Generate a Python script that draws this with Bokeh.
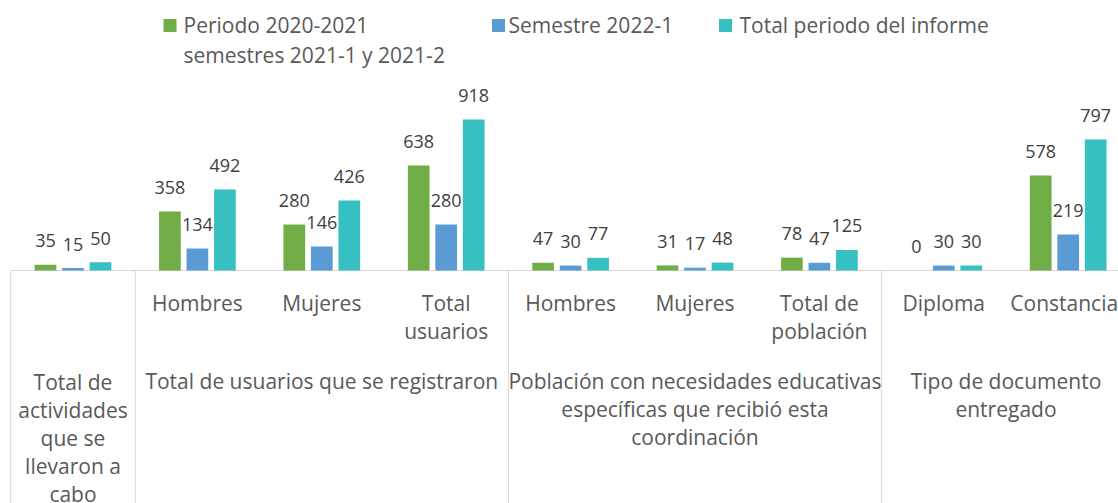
from bokeh.plotting import figure
from bokeh.models import Range1d, ColumnDataSource
from bokeh.core.properties import value
from bokeh.embed import file_html
from bokeh.resources import INLINE

# ---------------- data ----------------
sub_labels = ["", "Hombres", "Mujeres", "Total\nusuarios", "Hombres", "Mujeres",
              "Total de\npoblación", "Diploma", "Constancia"]
group_labels = ["Total de\nactividades\nque se\nllevaron a\ncabo",
                "Total de usuarios que se registraron",
                "Población con necesidades educativas\nespecíficas que recibió esta\ncoordinación",
                "Tipo de documento\nentregado"]
group_spans = [(0, 1), (1, 4), (4, 7), (7, 9)]
series_names = ["Periodo 2020-2021\nsemestres 2021-1 y 2021-2", "Semestre 2022-1",
                "Total periodo del informe"]
periodo = [35, 358, 280, 638, 47, 31, 78, 0, 578]
semestre = [15, 134, 146, 280, 30, 17, 47, 30, 219]
total = [50, 492, 426, 918, 77, 48, 125, 30, 797]
series = [periodo, semestre, total]
colors = ["#70AD47", "#5B9BD5", "#36C0C1"]

# ---------------- layout (pixels) ----------------
W, H = 1118, 503
CAT0 = 72.5             # centre of first category (px)
CATW = 124.4            # category width px
BASE = 270              # baseline y px from top
PPU = 0.16449           # pixels per value unit

def xd(px):
    return (px - CAT0) / CATW + 0.5

def yd(py):
    return (BASE - py) / PPU

p = figure(width=W, height=H, x_range=Range1d(xd(0), xd(W)), y_range=Range1d(yd(H), yd(0)),
           output_backend="svg", toolbar_location=None, min_border=0)
p.axis.visible = False
p.grid.visible = False
p.outline_line_color = None
p.background_fill_color = "white"
p.border_fill_color = "white"

FONT = value("Open Sans")
LBL = "#595959"
CAT_SPACING = 28.7

def block_offsets(labels, first_center):
    return [first_center + (t.count("\n")) / 2 * CAT_SPACING for t in labels]

# axis line and separators
n = len(sub_labels)
p.segment(x0=[0], y0=[0], x1=[n], y1=[0], line_color="#D9D9D9", line_width=1)
bounds = [s for s, e in group_spans] + [n]
p.segment(x0=bounds, y0=[0] * len(bounds), x1=bounds, y1=[yd(H + 5)] * len(bounds),
          line_color="#D9D9D9", line_width=1)

# bars
off = 27.5 / CATW
bw = 21.7 / CATW
for k, (vals, col) in enumerate(zip(series, colors)):
    xs = [i + 0.5 + (k - 1) * off for i in range(n)]
    src = ColumnDataSource(dict(x=xs, top=vals, lab=[str(v) for v in vals]))
    p.vbar(x="x", top="top", bottom=0, width=bw, source=src, fill_color=col, line_color=None)
    p.text(x="x", y="top", text="lab", source=src, text_align="center", text_baseline="middle",
           y_offset=-24, text_font=FONT, text_font_size="18px", text_color="#404040")

# category labels
sub_src = ColumnDataSource(dict(
    x=[i + 0.5 for i in range(n)], y=[0] * n, text=sub_labels,
    yo=block_offsets(sub_labels, 32),
    xo=[0] * (n - 1) + [-4]))
p.text(x="x", y="y", text="text", source=sub_src, x_offset="xo", y_offset="yo",
       text_align="center", text_baseline="middle", text_font=FONT, text_font_size="21px",
       text_color=LBL, text_line_height=1.0)
grp_src = ColumnDataSource(dict(
    x=[(s + e) / 2 for s, e in group_spans], y=[0] * len(group_spans), text=group_labels,
    yo=block_offsets(group_labels, 110)))
p.text(x="x", y="y", text="text", source=grp_src, y_offset="yo",
       text_align="center", text_baseline="middle", text_font=FONT, text_font_size="21px",
       text_color=LBL, text_line_height=1.0)

# legend
LEG_SPACING = 30
leg_sq_px = [169.5, 498, 725]
leg_tx_px = [183, 508, 739]
p.scatter(x=[xd(v) for v in leg_sq_px], y=[yd(25)] * 3, marker="square", size=13,
          fill_color=colors, line_color=None)
p.text(x=[xd(v) for v in leg_tx_px], y=[yd(24.5)] * 3, text=series_names,
       y_offset=[t.count("\n") / 2 * LEG_SPACING for t in series_names],
       text_align="left", text_baseline="middle", text_font=FONT, text_font_size="21px",
       text_color=LBL, text_line_height=1.05)

open("out.html", "w").write(file_html(p, INLINE))
